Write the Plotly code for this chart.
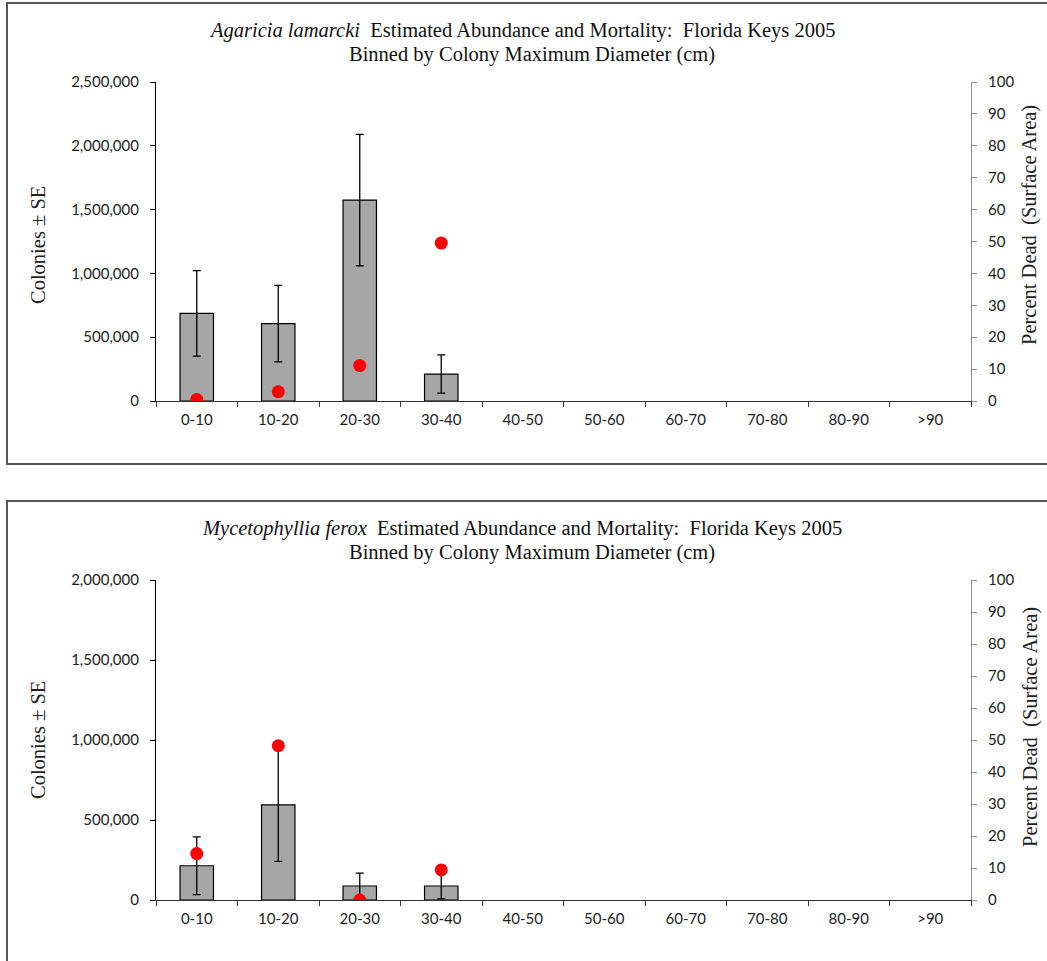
import plotly.graph_objects as go

W, H = 1047, 961

size_bins = ["0-10", "10-20", "20-30", "30-40", "40-50", "50-60",
             "60-70", "70-80", "80-90", ">90"]

# Agaricia lamarcki
aga_colonies = [687000, 606000, 1575000, 211000, None, None, None, None, None, None]
aga_se = [335000, 300000, 515000, 150000, None, None, None, None, None, None]
aga_pct_dead = [0.5, 2.9, 11.1, 49.5, None, None, None, None, None, None]

# Mycetophyllia ferox
myc_colonies = [214000, 594000, 87500, 87500, None, None, None, None, None, None]
myc_se = [180000, 352000, 81000, 81000, None, None, None, None, None, None]
myc_pct_dead = [14.5, 48.2, 0.0, 9.4, None, None, None, None, None, None]

left_ticks_top = [0, 500000, 1000000, 1500000, 2000000, 2500000]
left_ticks_bottom = [0, 500000, 1000000, 1500000, 2000000]
right_ticks = list(range(0, 101, 10))

SERIF = "Liberation Serif"
SANS = "Lato"
BAR_FILL = "#a6a6a6"
DOT_RED = "#ff0000"


def px(x):
    return x / W


def py(y):
    return 1 - y / H


fig = go.Figure()

panels = [
    dict(col=aga_colonies, se=aga_se, dead=aga_pct_dead, xa="x", ya="y", ya2="y2"),
    dict(col=myc_colonies, se=myc_se, dead=myc_pct_dead, xa="x2", ya="y3", ya2="y4"),
]

for p in panels:
    fig.add_trace(go.Bar(
        x=size_bins, y=p["col"], xaxis=p["xa"], yaxis=p["ya"],
        width=0.41,
        marker=dict(color=BAR_FILL, line=dict(color="#000000", width=1.2)),
        error_y=dict(type="data", array=p["se"], visible=True,
                     color="#000000", thickness=1.3, width=4),
        showlegend=False, hoverinfo="x+y",
    ))
    fig.add_trace(go.Scatter(
        x=size_bins, y=p["dead"], xaxis=p["xa"], yaxis=p["ya2"],
        mode="markers",
        marker=dict(color=DOT_RED, size=13, line=dict(width=0)),
        showlegend=False,
    ))

plot_x0, plot_x1 = 156, 971
top_y0, top_y1 = 82, 401
bot_y0, bot_y1 = 580, 900

xaxis_common = dict(
    type="category", categoryorder="array", categoryarray=size_bins,
    range=[-0.5, 9.5], showline=True, linecolor="#333333", linewidth=1.2,
    ticks="outside", ticklen=5, tickcolor="#333333", tickson="boundaries",
    showgrid=False, zeroline=False, ticklabelstandoff=5,
    tickfont=dict(family=SANS, size=15, color="#222222"),
    domain=[px(plot_x0), px(plot_x1)], fixedrange=True,
)

left_common = dict(
    showline=True, linecolor="#000000", linewidth=1.2,
    ticks="outside", ticklen=5, tickcolor="#000000",
    showgrid=False, zeroline=False, tickformat=",d",
    ticklabelstandoff=8,
    tickfont=dict(family=SANS, size=15, color="#222222"),
    fixedrange=True,
)

right_common = dict(
    side="right", range=[0, 100], tickvals=right_ticks,
    showline=True, linecolor="#8c8c8c", linewidth=1.2,
    ticks="outside", ticklen=5, tickcolor="#8c8c8c",
    showgrid=False, zeroline=False, ticklabelstandoff=8,
    tickfont=dict(family=SANS, size=15, color="#222222"),
    fixedrange=True,
)

fig.update_layout(
    width=W, height=H,
    margin=dict(l=0, r=0, t=0, b=0, pad=0, autoexpand=False),
    paper_bgcolor="#ffffff", plot_bgcolor="#ffffff",
    bargap=0.59,
    xaxis=dict(**xaxis_common, anchor="y"),
    yaxis=dict(**left_common, range=[0, 2500000], tickvals=left_ticks_top,
               domain=[py(top_y1), py(top_y0)], anchor="x"),
    yaxis2=dict(**right_common, overlaying="y", anchor="x"),
    xaxis2=dict(**xaxis_common, anchor="y3"),
    yaxis3=dict(**left_common, range=[0, 2000000], tickvals=left_ticks_bottom,
                domain=[py(bot_y1), py(bot_y0)], anchor="x2"),
    yaxis4=dict(**right_common, overlaying="y3", anchor="x2"),
)

# chart-area frames
frame = dict(type="rect", xref="paper", yref="paper",
             line=dict(color="#555555", width=2), fillcolor="rgba(0,0,0,0)")
fig.add_shape(**frame, x0=px(7), x1=px(1060), y0=py(464), y1=py(3))
fig.add_shape(**frame, x0=px(7), x1=px(1060), y0=py(1000), y1=py(501))

titles = [
    ("<i>Agaricia lamarcki</i>  Estimated Abundance and Mortality:  Florida Keys 2005", 522, 30),
    ("Binned by Colony Maximum Diameter (cm)", 532, 54),
    ("<i>Mycetophyllia ferox</i>  Estimated Abundance and Mortality:  Florida Keys 2005", 522, 528),
    ("Binned by Colony Maximum Diameter (cm)", 532, 552),
]
for text, xc, yc in titles:
    fig.add_annotation(text=text, x=px(xc), y=py(yc), xref="paper", yref="paper",
                       showarrow=False, xanchor="center", yanchor="middle",
                       font=dict(family=SERIF, size=20.5, color="#111111"))

axis_titles = [
    ("Colonies ± SE", 38, 245),
    ("Percent Dead  (Surface Area)", 1030, 225),
    ("Colonies ± SE", 38, 740),
    ("Percent Dead  (Surface Area)", 1030, 727),
]
for text, xc, yc in axis_titles:
    fig.add_annotation(text=text, x=px(xc), y=py(yc), xref="paper", yref="paper",
                       showarrow=False, textangle=-90,
                       xanchor="center", yanchor="middle",
                       font=dict(family=SERIF, size=20.5, color="#222222"))

fig.write_html("out.html")
